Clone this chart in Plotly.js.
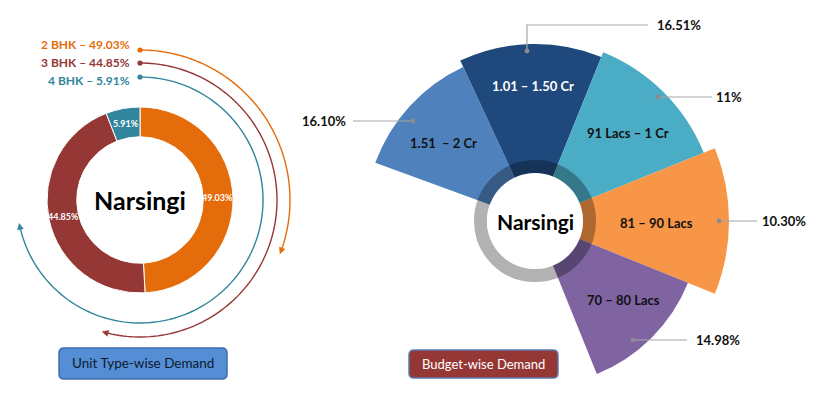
<!DOCTYPE html>
<html>
<head>
<meta charset="utf-8">
<script src="https://cdn.plot.ly/plotly-3.0.1.min.js"></script>
<style>
  html, body { margin:0; padding:0; background:#fff; width:828px; height:395px; overflow:hidden; }
  #wrap { width:828px; height:395px; overflow:hidden; position:relative; }
  #chart { width:828px; height:460px; }
</style>
</head>
<body>
<div id="wrap"><div id="chart"></div></div>
<script>
// ---------- data ----------
const locality = 'Narsingi';
const unitTypes = ['2 BHK', '3 BHK', '4 BHK'];
const unitShare = [49.03, 44.85, 5.91];
const budgetRanges = ['1.51  – 2 Cr', '1.01 – 1.50 Cr', '91 Lacs – 1 Cr', '81 – 90 Lacs', '70 – 80 Lacs'];
const budgetShare = [16.10, 16.51, 11, 10.30, 14.98];
const budgetShareText = ['16.10%', '16.51%', '11%', '10.30%', '14.98%'];
const budgetBarLength = [170, 177, 182, 194, 165];

// ---------- helpers ----------
const W = 828, H = 460;
const X = px => px / W;
const Y = py => (H - py) / H;
const FONT = 'Lato, "Open Sans", sans-serif';

const unitColors = ['#E46C0A', '#953735', '#31859C'];
const budgetColors = ['#4F81BD', '#1F497D', '#4BACC6', '#F79646', '#8064A2'];
const budgetTextColors = ['#111', '#fff', '#111', '#111', '#111'];
const budgetTheta = [137.5, 91.5, 45, 0, -45];
const budgetWidth = [45, 47, 46, 44, 46];

const shapes = [];
const annotations = [];

function label(px, py, text, font, xanchor) {
  annotations.push({xref:'paper', yref:'paper', x:X(px), y:Y(py), xanchor:xanchor || 'center', yanchor:'middle',
    showarrow:false, text:text, font:font});
}
function pathFromPx(pts, close) {
  let s = pts.map((p, i) => (i ? 'L' : 'M') + X(p[0]).toFixed(5) + ',' + Y(p[1]).toFixed(5)).join(' ');
  return close ? s + ' Z' : s;
}
function circlePx(cx, cy, r, opts) {
  shapes.push(Object.assign({type:'circle', xref:'paper', yref:'paper',
    x0:X(cx - r), x1:X(cx + r), y0:Y(cy + r), y1:Y(cy - r)}, opts));
}
function roundRect(x0, y0, x1, y1, rad) {
  const f = (px,py)=> X(px).toFixed(5)+','+Y(py).toFixed(5);
  return 'M' + f(x0+rad,y0) + ' L' + f(x1-rad,y0) + ' Q' + f(x1,y0) + ' ' + f(x1,y0+rad) +
    ' L' + f(x1,y1-rad) + ' Q' + f(x1,y1) + ' ' + f(x1-rad,y1) +
    ' L' + f(x0+rad,y1) + ' Q' + f(x0,y1) + ' ' + f(x0,y1-rad) +
    ' L' + f(x0,y0+rad) + ' Q' + f(x0,y0) + ' ' + f(x0+rad,y0) + ' Z';
}

// ---------- left: donut slice labels (at slice mid-angles) ----------
const dcx = 140, dcy = 200, dMid = 78;
const total = unitShare.reduce((a, b) => a + b, 0);
let cum = 0;
unitShare.forEach((v, i) => {
  const mid = (cum + v / 2) / total * 2 * Math.PI; // clockwise from 12 o'clock
  cum += v;
  label(dcx + dMid * Math.sin(mid), dcy - dMid * Math.cos(mid), '<b>' + v.toFixed(2) + '%</b>',
    {family:FONT, size:9, color:'#fff'});
});

// ---------- left: curved arrows ----------
const arcR = [150, 137, 123];
const arcEnd = [21, 106, 169]; // screen degrees, clockwise from east
arcR.forEach((r, i) => {
  const a0 = -90 * Math.PI / 180;
  const aEnd = arcEnd[i] * Math.PI / 180;
  const head = 6;
  const aStop = aEnd - head / r;
  const pts = [];
  const n = 120;
  for (let k = 0; k <= n; k++) {
    const a = a0 + (aStop - a0) * k / n;
    pts.push([dcx + r * Math.cos(a), dcy + r * Math.sin(a)]);
  }
  shapes.push({type:'path', xref:'paper', yref:'paper', path:pathFromPx(pts),
    line:{color:unitColors[i], width:1.4}});
  const tip = [dcx + r * Math.cos(aEnd), dcy + r * Math.sin(aEnd)];
  const d = [-Math.sin(aEnd), Math.cos(aEnd)];
  const nr = [Math.cos(aEnd), Math.sin(aEnd)];
  const b = [tip[0] - d[0] * head, tip[1] - d[1] * head];
  shapes.push({type:'path', xref:'paper', yref:'paper',
    path:pathFromPx([tip, [b[0] + nr[0]*3, b[1] + nr[1]*3], [b[0] - nr[0]*3, b[1] - nr[1]*3]], true),
    fillcolor:unitColors[i], line:{color:unitColors[i], width:0.5}});
  circlePx(dcx, dcy - r, 2.6, {fillcolor:unitColors[i], line:{width:0}});
});
const labelY = [44, 62, 81];
unitTypes.forEach((u, i) => {
  label(132, labelY[i], '<b>' + u + ' – ' + unitShare[i].toFixed(2) + '%</b>',
    {family:FONT, size:12, color:unitColors[i]}, 'right');
});
label(dcx, dcy, '<b>' + locality + '</b>', {family:FONT, size:25, color:'#000'});

// ---------- right: overlay ring + centre ----------
const pcx = 535, pcy = 221;
circlePx(pcx, pcy, 54.5, {fillcolor:'rgba(0,0,0,0)', line:{color:'rgba(0,0,0,0.3)', width:13}});
circlePx(pcx, pcy, 48, {fillcolor:'#fff', line:{width:0}});
label(pcx, pcy, '<b>' + locality + '</b>', {family:FONT, size:21, color:'#000'});

const wedgeLabelPos = [[443,143],[533,86],[628,133],[656,223],[623,300]];
budgetRanges.forEach((b, i) => {
  label(wedgeLabelPos[i][0], wedgeLabelPos[i][1], '<b>' + b + '</b>',
    {family:FONT, size:13, color:budgetTextColors[i]});
});

const leaders = [
  {pts:[[413,121],[353,121]], tx:348, ty:121, anchor:'right'},
  {pts:[[527,51],[527,25],[648,25]], tx:655, ty:25, anchor:'left'},
  {pts:[[658,97],[712,97]], tx:714, ty:97, anchor:'left'},
  {pts:[[719,221],[757,221]], tx:760, ty:221, anchor:'left'},
  {pts:[[633,340],[687,340]], tx:694, ty:340, anchor:'left'}
];
leaders.forEach((l, i) => {
  shapes.push({type:'path', xref:'paper', yref:'paper', path:pathFromPx(l.pts), line:{color:'#A6A6A6', width:1.2}});
  circlePx(l.pts[0][0], l.pts[0][1], 2.4, {fillcolor:'#8C8C8C', line:{width:0}});
  label(l.tx, l.ty, '<b>' + budgetShareText[i] + '</b>', {family:FONT, size:13, color:'#111'}, l.anchor);
});

// ---------- bottom caption boxes ----------
shapes.push({type:'path', xref:'paper', yref:'paper', path:roundRect(59,348,227,379,5),
  fillcolor:'#558ED5', line:{color:'#3F6DAE', width:1.5}});
label(143, 363.5, 'Unit Type-wise Demand', {family:FONT, size:13.5, color:'#0E1A30'});
shapes.push({type:'path', xref:'paper', yref:'paper', path:roundRect(409,350,558,378,5),
  fillcolor:'#953735', line:{color:'#5B7BB0', width:1.5}});
label(483.5, 364, 'Budget-wise Demand', {family:FONT, size:13, color:'#fff'});

// ---------- traces ----------
const donut = {
  type:'pie', labels:unitTypes, values:unitShare, sort:false, direction:'clockwise', rotation:0,
  hole:0.68, domain:{x:[X(47), X(233)], y:[Y(293), Y(107)]},
  marker:{colors:unitColors, line:{color:'#fff', width:1}},
  textinfo:'none', hoverinfo:'skip', showlegend:false
};
const fan = {
  type:'barpolar', r:budgetBarLength, theta:budgetTheta, width:budgetWidth,
  marker:{color:budgetColors, line:{width:0}}, customdata:budgetShare,
  hoverinfo:'skip', showlegend:false
};

const layout = {
  width:W, height:H, margin:{l:0, r:0, t:0, b:0},
  paper_bgcolor:'#fff', plot_bgcolor:'#fff', showlegend:false,
  polar:{
    domain:{x:[X(335), X(735)], y:[Y(421), Y(21)]},
    bgcolor:'rgba(0,0,0,0)',
    radialaxis:{range:[0,200], visible:false},
    angularaxis:{visible:false, direction:'counterclockwise', rotation:0}
  },
  shapes:shapes, annotations:annotations
};
Plotly.newPlot('chart', [donut, fan], layout, {displayModeBar:false, staticPlot:true});
</script>
</body>
</html>
